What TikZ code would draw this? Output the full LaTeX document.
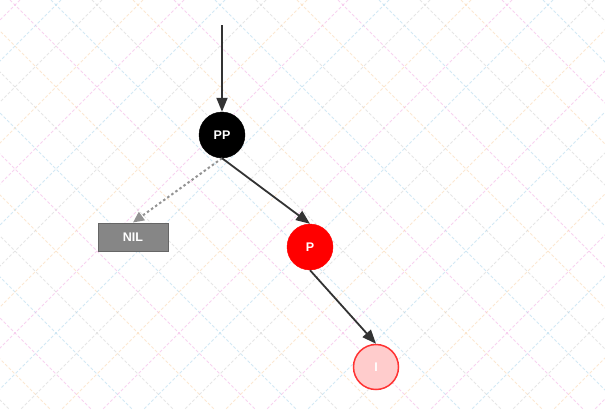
\documentclass[tikz,border=0pt]{standalone}
\usepackage{fontspec}
\setmainfont{Liberation Sans}
\usetikzlibrary{arrows.meta}
\definecolor{gridA}{HTML}{A8D4EC}
\definecolor{gridB}{HTML}{CFCFCF}
\definecolor{gridC}{HTML}{FBD3A6}
\definecolor{gridD}{HTML}{F3A9E2}
\definecolor{redfill}{HTML}{FF0000}
\definecolor{lightred}{HTML}{FFCCCC}
\definecolor{edgegray}{HTML}{333333}
\begin{document}
\begin{tikzpicture}[x=1pt, y=-1pt,
	blacknode/.style = {circle, fill=black, draw=black, minimum size=46pt, inner sep=0pt, text=white, font=\bfseries\fontsize{12.5}{14}\selectfont},
	rednode/.style = {circle, fill=redfill, draw=redfill, minimum size=46pt, inner sep=0pt, text=white, font=\bfseries\fontsize{12.5}{14}\selectfont},
	newnode/.style = {circle, fill=lightred, draw=red!80, line width=1.5pt, minimum size=45pt, inner sep=0pt, text=white, font=\bfseries\fontsize{12.5}{14}\selectfont},
	nilnode/.style = {rectangle, fill=gray!95, draw=gray!80!black, line width=1pt, minimum width=70pt, minimum height=28pt, text=white, font=\bfseries\fontsize{12.5}{14}\selectfont},
	link/.style = {draw=edgegray, line width=1.8pt, -{Triangle[length=14pt, width=11pt]}},
	nillink/.style = {draw=gray!85, line width=2pt, dash pattern=on 2.5pt off 2.5pt, -{Triangle[length=11pt, width=10pt]}},
	gridline/.style = {opacity=0.5, line width=0.9pt, dash pattern=on 3pt off 2pt}]
	\useasboundingbox (0,0) rectangle (605,410);
	\fill[white] (0,0) rectangle (605,410);
	% background grid
	\begin{scope}
		\clip (0,0) rectangle (605,410);
		\foreach \k [count=\i] in {-10,...,25} {
			\pgfmathtruncatemacro{\c}{mod(\i,4)}
			\ifcase\c \def\gc{gridA}\or \def\gc{gridB}\or \def\gc{gridC}\else \def\gc{gridD}\fi
			\draw[gridline, \gc] ({10+41*\k},0) -- ({10+41*\k+410},410);
			\draw[gridline, \gc] ({20+41*\k},0) -- ({20+41*\k-410},410);
		}
	\end{scope}
	% tree
	\coordinate (top) at (222,25);
	\node[blacknode] (PP) at (222,135) {PP};
	\node[nilnode] (NIL) at (133,237) {NIL};
	\node[rednode] (P) at (310,247) {P};
	\node[newnode] (I) at (376,367) {I};
	\path[link] (top) -- (PP);
	\path[nillink] (PP.south) -- (NIL.north);
	\path[link] (PP.south) -- (P.north);
	\path[link] (P.south) -- (I.north);
\end{tikzpicture}
\end{document}
